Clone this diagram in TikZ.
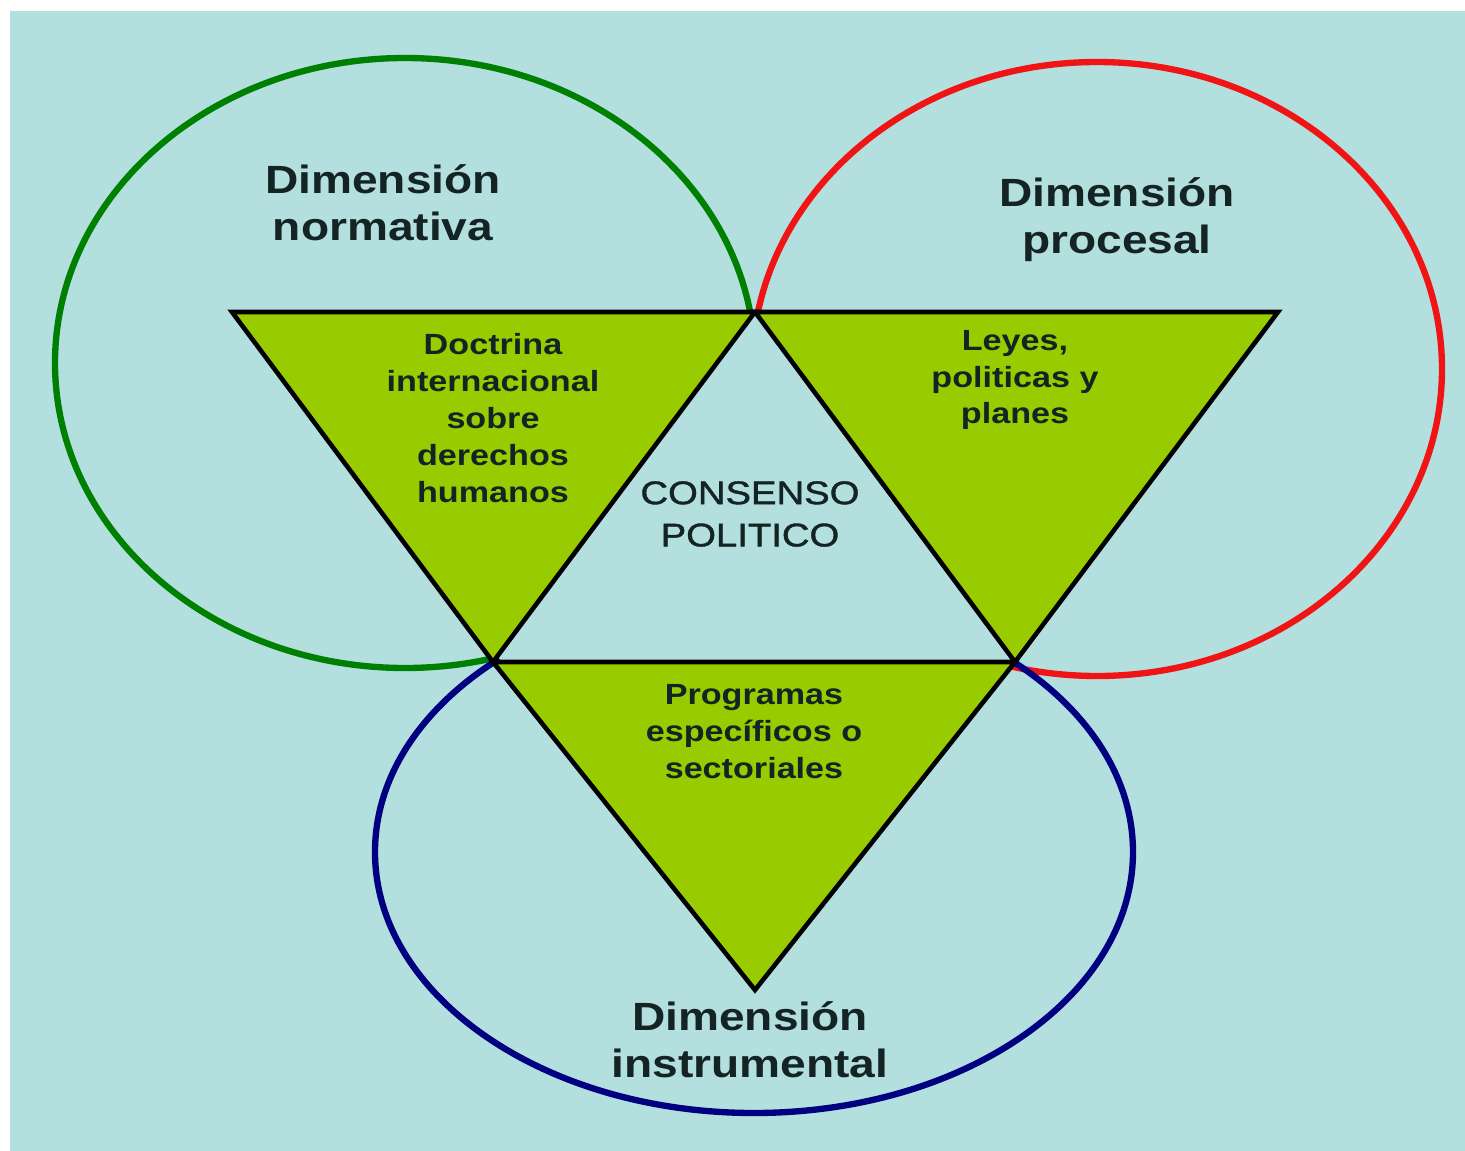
\documentclass[tikz,border=0pt]{standalone}
\usepackage{fontspec}
\setmainfont{Liberation Sans}
\newfontfamily\dimfont[FakeStretch=1.17]{Liberation Sans}
\newfontfamily\consfont[FakeStretch=1.17,FakeBold=1.2]{Liberation Sans}
\usepackage{tikz}

\definecolor{fondo}{RGB}{180,223,223}
\definecolor{verdetri}{RGB}{153,204,0}
\definecolor{verdeelip}{RGB}{0,128,0}
\definecolor{rojoelip}{RGB}{240,20,20}
\definecolor{azulelip}{RGB}{0,0,128}
\definecolor{texto}{RGB}{20,35,35}

\begin{document}
\begin{tikzpicture}[x=0.01cm, y=-0.01cm,
    elipse/.style = {line width=1.8pt},
    tri/.style = {fill=verdetri, draw=black, line width=1.3pt, line join=miter},
    titulo/.style = {align=center, text=texto, font=\dimfont\bfseries\fontsize{11.2}{13.4}\selectfont},
    caja/.style = {align=center, text=texto, font=\dimfont\bfseries\fontsize{8.3}{10.5}\selectfont}]
  \useasboundingbox (0,0) rectangle (1465,1151);
  \fill[fondo] (10,11) rectangle (1465,1151);
  % vertices
  \coordinate (a) at (232,312);
  \coordinate (b) at (755,312);
  \coordinate (c) at (1278,312);
  \coordinate (d) at (493,662);
  \coordinate (e) at (1015,662);
  \coordinate (f) at (755,990);
  % dimensiones
  \draw[elipse, verdeelip] (405,363) ellipse [x radius=350, y radius=305];
  \draw[elipse, rojoelip] (1097,369) ellipse [x radius=345, y radius=307];
  \draw[elipse, azulelip] (754,852) ellipse [x radius=379, y radius=261];
  \fill[fondo] (a) -- (c) -- (f) -- cycle;
  \path[tri] (a) -- (b) -- (d) -- cycle;
  \path[tri] (b) -- (c) -- (e) -- cycle;
  \path[tri] (d) -- (e) -- (f) -- cycle;
  \node[titulo] (normativa) at (383,203) {Dimensión\\normativa};
  \node[titulo] (procesal) at (1117,220) {Dimensión\\procesal};
  \node[titulo] (instrumental) at (750,1040) {Dimensión\\instrumental};
  \node[caja] (doctrina) at (493,418) {Doctrina\\internacional\\sobre\\derechos\\humanos};
  \node[caja] (leyes) at (1015,380) {Leyes,\\politicas y\\planes};
  \node[caja] (programas) at (754,732) {Programas\\específicos o\\sectoriales};
  \node[align=center, text=texto, font=\consfont\fontsize{9.3}{12}\selectfont] (consenso) at (750,514) {CONSENSO\\POLITICO};
\end{tikzpicture}
\end{document}
